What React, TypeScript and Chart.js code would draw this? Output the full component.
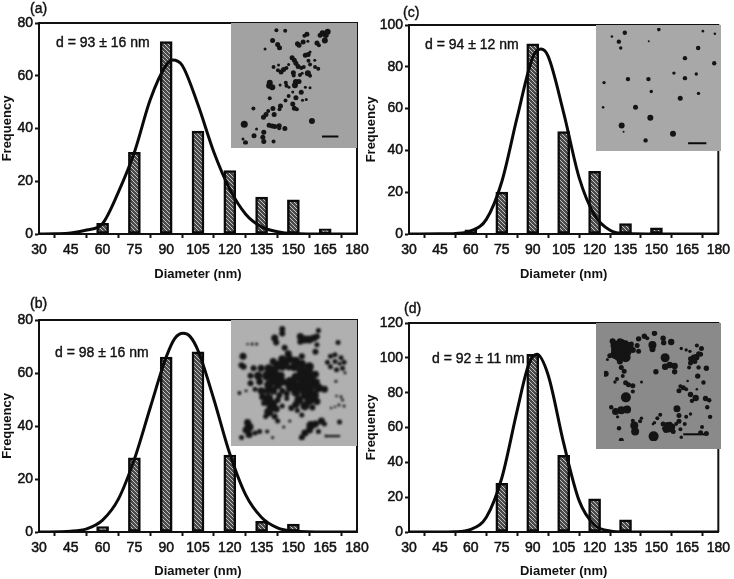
import React, { useEffect, useRef } from 'react';
import { Chart, registerables } from 'chart.js';
Chart.register(...registerables);

// histogram values, one list per panel
const diameters = [60, 75, 90, 105, 120, 135, 150, 165, 180];
const freqA = [4, 31, 73, 39, 24, 14, 13, 2, 0];
const freqB = [2, 28, 66, 68, 29, 4, 3, 0, 0];
const freqC = [2, 20, 91, 49, 30, 5, 3, 0, 0];
const freqD = [0, 28, 102, 44, 19, 7, 0, 0, 0];

// fitted curves: [diameter, frequency]
const curveA = [[30, 0], [37.5, 0.1], [45, 0.4], [52.5, 1.5], [60, 4], [67.5, 16], [75, 31], [82.5, 51], [90, 64], [93, 66], [97.5, 64], [105, 49], [112.5, 31], [120, 17], [127.5, 7.5], [135, 2.7], [142.5, 0.9], [150, 0.2], [165, 0], [180, 0]];
const curveB = [[30, 0], [45, 0.3], [52.5, 1.2], [60, 4.5], [67.5, 12.5], [75, 27.5], [82.5, 47], [90, 66], [94, 73], [98, 75], [101, 74], [105, 68.5], [112.5, 50], [120, 29.5], [127.5, 14], [135, 5.5], [142.5, 1.6], [150, 0.4], [165, 0], [180, 0]];
const curveC = [[30, 0], [45, 0.1], [52.5, 0.3], [60, 1.5], [67.5, 7], [75, 25], [82.5, 56], [90, 84.5], [94, 88.5], [97.5, 85], [105, 58], [112.5, 27], [120, 9], [127.5, 1.8], [135, 0.2], [150, 0], [180, 0]];
const curveD = [[30, 0], [52.5, 0.2], [60, 1.5], [67.5, 8.5], [75, 31], [82.5, 70], [88, 96], [92, 102], [97.5, 90], [105, 51], [112.5, 18], [120, 4], [127.5, 0.6], [135, 0], [180, 0]];

// particles of the micrographs: [x, y, radius], x and y on a 0-378 scale
const particlesA = [[133, 12, 2], [161, 14, 2], [230, 25, 2.5], [222, 30, 2], [296, 17, 3], [280, 22, 3], [272, 28, 2.5], [290, 27, 3], [287, 45, 3], [121, 45, 2.5], [97, 72, 1.5], [137, 58, 2.5], [143, 68, 2.5], [200, 55, 2.5], [205, 60, 2.5], [218, 50, 2.5], [233, 47, 1.5], [262, 53, 2.5], [268, 60, 2], [225, 92, 2.5], [234, 90, 2.5], [240, 82, 1.5], [183, 100, 2.5], [190, 108, 2.5], [195, 118, 2.5], [202, 128, 2.5], [212, 133, 2], [220, 130, 2], [235, 110, 2], [240, 122, 2], [255, 108, 1.5], [256, 130, 2], [266, 135, 2], [172, 122, 1.5], [124, 130, 2], [140, 123, 1.5], [138, 140, 2], [148, 146, 2.5], [156, 138, 2.5], [165, 133, 2], [187, 148, 2.5], [188, 157, 2], [208, 155, 2], [215, 150, 1.5], [233, 150, 3], [240, 158, 2], [112, 180, 3], [110, 190, 3], [120, 195, 3], [145, 187, 1.5], [163, 180, 2], [165, 190, 2], [195, 178, 3], [205, 176, 2.5], [192, 188, 3], [173, 195, 1.5], [225, 195, 1.5], [240, 196, 1.5], [185, 210, 1.5], [212, 211, 2.5], [172, 223, 2], [195, 228, 2.5], [112, 230, 2], [162, 237, 2], [216, 236, 1.5], [228, 234, 1.5], [185, 248, 2.5], [190, 262, 2.5], [198, 265, 2], [60, 263, 2], [146, 255, 2.5], [143, 265, 2], [122, 263, 2.5], [107, 271, 2], [100, 282, 2.5], [92, 291, 2.5], [126, 282, 2.5], [246, 303, 3], [31, 313, 3.5], [110, 316, 2.5], [120, 319, 2.5], [128, 320, 2.5], [142, 318, 2.5], [142, 326, 2], [160, 327, 2.5], [70, 328, 1.5], [27, 360, 1.5], [62, 350, 2.5], [93, 339, 2.5], [90, 355, 2.5], [93, 368, 2.5], [35, 372, 2.5], [124, 368, 2]];
const particlesB = [[150, 10, 3], [150, 25, 3], [270, 15, 2.5], [210, 35, 3.5], [225, 45, 4], [240, 45, 4], [255, 40, 3.5], [210, 52, 3], [265, 35, 3], [125, 40, 3.5], [130, 55, 3], [158, 72, 3], [50, 60, 1.5], [65, 60, 1.5], [35, 60, 1.2], [335, 55, 2.5], [265, 62, 2.5], [260, 85, 3], [20, 100, 3.5], [15, 130, 3], [22, 135, 3], [310, 100, 2.5], [325, 95, 2.5], [345, 105, 2.5], [355, 120, 2.5], [350, 140, 2.5], [330, 145, 2.5], [310, 135, 2.5], [300, 120, 2.5], [325, 118, 2.5], [340, 125, 2], [358, 155, 1.5], [328, 183, 1.5], [170, 92, 3.5], [150, 110, 4], [175, 110, 4], [195, 115, 4], [120, 118, 3.5], [215, 125, 4], [135, 130, 4.5], [105, 140, 4], [80, 140, 3.5], [55, 140, 3], [120, 150, 5.5], [240, 135, 4.5], [190, 135, 4.5], [150, 135, 4], [215, 150, 5], [240, 160, 5], [100, 165, 5], [70, 165, 4], [45, 165, 3], [125, 175, 6], [195, 170, 4.5], [220, 175, 6], [250, 185, 5], [75, 185, 3.5], [45, 190, 3], [105, 195, 4.5], [135, 195, 4.5], [165, 190, 3], [190, 195, 4.5], [215, 200, 6], [240, 205, 5], [270, 205, 4.5], [290, 210, 3.5], [80, 215, 3.5], [120, 215, 4], [150, 215, 3], [195, 220, 4.5], [230, 225, 6], [255, 230, 5], [85, 235, 3.5], [105, 240, 4.5], [135, 245, 3], [165, 240, 2.5], [205, 245, 4.5], [240, 245, 5], [265, 250, 3.5], [115, 260, 5.5], [150, 265, 2.5], [195, 260, 3.5], [225, 265, 4.5], [250, 270, 3], [105, 285, 4.5], [125, 300, 3], [95, 300, 2.5], [215, 295, 2.5], [200, 280, 2.5], [135, 315, 2.5], [155, 335, 1.5], [175, 315, 1.5], [35, 320, 3.5], [40, 335, 4.5], [30, 345, 3.5], [40, 360, 3.5], [60, 355, 2.5], [75, 350, 2.5], [100, 350, 2], [245, 330, 4.5], [260, 325, 3.5], [280, 315, 3.5], [240, 345, 3.5], [225, 355, 3.5], [270, 350, 2.5], [290, 325, 2.5], [340, 318, 2.5], [295, 365, 1.5], [118, 370, 1.5], [8, 222, 2], [30, 215, 1.5], [345, 235, 1.5], [350, 245, 1.5], [338, 262, 1.5], [355, 265, 1.5], [325, 268, 1.2], [312, 272, 1.2], [160, 122, 4], [172, 138, 3], [145, 165, 4], [175, 182, 4], [150, 185, 4], [175, 205, 4], [165, 225, 3], [140, 230, 3], [100, 215, 3.5], [90, 255, 3], [130, 275, 3.5], [180, 272, 3], [215, 100, 3], [260, 160, 3.5], [265, 185, 3], [60, 210, 2.5], [215, 370, 3], [15, 370, 2.5], [330, 232, 1.2]];
const particlesC = [[190, 5, 1.8], [82, 15, 2.2], [41, 27, 1.3], [330, 10, 1.3], [368, 18, 1.3], [63, 43, 2.2], [69, 63, 1.7], [158, 42, 1], [315, 63, 2.2], [273, 95, 2.2], [366, 111, 2.2], [238, 142, 1.7], [309, 145, 1.7], [273, 158, 2.2], [92, 161, 2.2], [157, 161, 2.2], [16, 172, 1.7], [166, 200, 1.7], [316, 206, 1.7], [258, 221, 2.5], [116, 250, 2.5], [13, 250, 1.3], [163, 283, 3], [72, 307, 3], [235, 333, 3], [148, 354, 2.2], [78, 327, 1]];
const particlesD = [[60, 65, 8], [40, 50, 5], [85, 55, 5], [40, 80, 5], [75, 90, 5], [45, 65, 6], [75, 70, 6], [60, 45, 5], [55, 85, 6], [30, 35, 3], [55, 35, 3], [75, 42, 3], [100, 65, 3], [115, 50, 2.5], [120, 70, 2.5], [20, 85, 2.5], [12, 98, 1.5], [95, 45, 2.5], [55, 105, 3], [60, 125, 2.5], [70, 138, 2.5], [65, 155, 2], [45, 165, 2], [38, 175, 1.7], [75, 178, 2.5], [85, 185, 2.5], [100, 188, 2.5], [100, 208, 2], [130, 175, 1.5], [6, 147, 3], [120, 27, 2.7], [140, 18, 2.7], [150, 25, 2], [175, 8, 2.7], [168, 48, 4], [168, 63, 3], [205, 25, 2.7], [207, 40, 2.7], [233, 38, 3.2], [180, 140, 2.7], [212, 92, 4.5], [212, 123, 3.2], [228, 117, 3.2], [245, 120, 3.2], [245, 140, 2.7], [268, 60, 1.7], [285, 65, 1.7], [298, 70, 1.7], [305, 100, 3.2], [320, 90, 3.2], [312, 92, 3.2], [300, 95, 2.5], [315, 105, 2.5], [328, 78, 2.5], [335, 80, 2.5], [338, 60, 2.5], [322, 50, 2], [295, 125, 2], [300, 110, 2.5], [328, 125, 2.2], [355, 128, 2.7], [325, 155, 2.7], [345, 177, 2.2], [290, 172, 1.3], [260, 205, 2.5], [275, 195, 2.5], [265, 190, 2], [285, 200, 2], [300, 218, 2.7], [318, 230, 3.2], [305, 240, 2.2], [322, 200, 1.3], [352, 232, 2.7], [365, 238, 2.2], [358, 262, 2.2], [368, 295, 2.2], [76, 228, 5], [25, 262, 2.2], [40, 277, 3.5], [60, 272, 4], [80, 270, 4], [47, 295, 1.7], [52, 334, 2.2], [105, 325, 4], [108, 345, 4], [125, 310, 2], [100, 308, 2], [130, 300, 1.7], [172, 362, 5], [60, 375, 2.5], [253, 267, 3.5], [195, 288, 2], [185, 300, 2], [175, 315, 1.7], [205, 320, 2.5], [220, 325, 3.5], [235, 330, 3.5], [228, 322, 3], [215, 340, 3], [210, 335, 2.5], [225, 340, 2.5], [240, 345, 2.5], [260, 290, 2.5], [285, 295, 2], [300, 285, 1.7], [260, 310, 2.5], [280, 320, 2], [250, 320, 2], [265, 338, 2], [268, 365, 1.7], [340, 330, 2], [335, 350, 2.5], [355, 352, 2.5], [170, 320, 1.3]];

// scale bars of the micrographs: [x1, x2, y] on the same 0-378 scale
const scaleBarA = [278, 330, 352];
const scaleBarB = [295, 342, 365];
const scaleBarC = [283, 341, 363];
const scaleBarD = [275, 352, 355];

const FONT = '"Liberation Sans", Arial, sans-serif';

const hatch = () => {
  const tile = document.createElement('canvas');
  tile.width = 4;
  tile.height = 4;
  const c = tile.getContext('2d') as CanvasRenderingContext2D;
  c.fillStyle = '#4a4a4a';
  c.fillRect(0, 0, 4, 4);
  c.fillStyle = '#c4c4c4';
  for (let i = 0; i < 4; i++) c.fillRect(i, i, 1, 1);
  return c.createPattern(tile, 'repeat');
};

// closes the plot box on the top and right
const frame = {
  id: 'frame',
  afterDatasetsDraw(chart: any) {
    const { ctx, chartArea: a } = chart;
    ctx.save();
    ctx.strokeStyle = '#111';
    ctx.lineWidth = 2;
    ctx.beginPath();
    ctx.moveTo(a.left, a.top);
    ctx.lineTo(a.right, a.top);
    ctx.lineTo(a.right, a.bottom);
    ctx.stroke();
    ctx.restore();
  },
};

const Panel = ({ box, plot, yMax, yStep, freq, curve }: any) => {
  const ref = useRef<HTMLCanvasElement>(null);

  useEffect(() => {
    const tickOpts = { color: '#111', textStrokeColor: '#111', textStrokeWidth: 0.5, font: { family: FONT, size: 14 } };
    const titleOpts = { display: true, color: '#111', padding: 0, font: { family: FONT, size: 13, weight: 'bold' } };
    const chart = new Chart(ref.current as HTMLCanvasElement, {
      type: 'bar',
      data: {
        datasets: [
          {
            type: 'line',
            data: curve.map(([x, y]: number[]) => ({ x, y })),
            borderColor: '#0a0a0a',
            borderWidth: 3,
            pointRadius: 0,
            tension: 0.4,
            cubicInterpolationMode: 'monotone',
            order: 0,
          },
          {
            type: 'bar',
            data: diameters.map((x, i) => ({ x, y: freq[i] })),
            backgroundColor: hatch(),
            borderColor: '#0a0a0a',
            borderWidth: 2.5,
            borderSkipped: false,
            barThickness: 12,
            order: 1,
          },
        ],
      } as any,
      options: {
        responsive: false,
        animation: false,
        devicePixelRatio: 1,
        layout: { padding: { top: plot.top - box.y, right: box.x + box.w - plot.right, left: 0, bottom: 0 } },
        plugins: { legend: { display: false }, tooltip: { enabled: false } },
        scales: {
          x: {
            type: 'linear',
            min: 30,
            max: 180,
            offset: false,
            afterFit: (s: any) => { s.height = box.y + box.h - plot.bottom; },
            title: { ...titleOpts, text: 'Diameter (nm)' },
            ticks: { ...tickOpts, stepSize: 15, padding: 4, maxRotation: 0, autoSkip: false },
            grid: { drawOnChartArea: false, tickLength: 4, tickWidth: 2, tickColor: '#111' },
            border: { color: '#111', width: 2 },
          },
          y: {
            min: 0,
            max: yMax,
            afterFit: (s: any) => { s.width = plot.left - box.x; },
            title: { ...titleOpts, text: 'Frequency' },
            ticks: { ...tickOpts, stepSize: yStep, padding: 2 },
            grid: { drawOnChartArea: false, tickLength: 4, tickWidth: 2, tickColor: '#111' },
            border: { color: '#111', width: 2 },
          },
        },
      } as any,
      plugins: [frame],
    });

    return () => {
      chart.destroy();
    };
  }, []);

  return (
    <canvas
      ref={ref}
      width={box.w}
      height={box.h}
      style={{ position: 'absolute', left: box.x, top: box.y, width: box.w, height: box.h, filter: 'blur(0.35px)' }}
    />
  );
};

const Micrograph = ({ x, y, w, h, particles, bar, bg, blur }: any) => {
  const ref = useRef<HTMLCanvasElement>(null);

  useEffect(() => {
    const chart = new Chart(ref.current as HTMLCanvasElement, {
      type: 'bubble',
      data: {
        datasets: [
          {
            data: particles.map(([px, py, r]: number[]) => ({ x: px, y: py, r })),
            backgroundColor: '#141414',
            borderWidth: 0,
            hoverRadius: 0,
          },
          {
            type: 'line',
            data: [{ x: bar[0], y: bar[2] }, { x: bar[1], y: bar[2] }],
            borderColor: '#0a0a0a',
            borderWidth: 2,
            pointRadius: 0,
          },
        ],
      } as any,
      options: {
        responsive: false,
        animation: false,
        devicePixelRatio: 1,
        plugins: { legend: { display: false }, tooltip: { enabled: false } },
        scales: {
          x: { type: 'linear', display: false, min: 0, max: 378 },
          y: { type: 'linear', display: false, min: 0, max: 378, reverse: true },
        },
      } as any,
    });

    return () => {
      chart.destroy();
    };
  }, []);

  return (
    <div style={{ position: 'absolute', left: x, top: y, width: w, height: h, background: bg, overflow: 'hidden' }}>
      <canvas ref={ref} width={w} height={h} style={{ display: 'block', width: w, height: h, filter: `blur(${blur}px)` }} />
    </div>
  );
};

const Note = ({ x, y, children }: any) => (
  <div
    style={{
      position: 'absolute',
      left: x,
      top: y - 8,
      lineHeight: '16px',
      fontFamily: FONT,
      fontSize: 14,
      color: '#111',
      WebkitTextStroke: '0.4px #111',
      whiteSpace: 'nowrap',
    }}
  >
    {children}
  </div>
);

export default function App() {
  useEffect(() => {
    document.body.style.margin = '0';
  }, []);

  return (
    <div style={{ position: 'absolute', left: 0, top: 0, width: 734, height: 579, overflow: 'hidden', background: '#fff' }}>
      <Panel box={{ x: 0, y: 0, w: 374, h: 282 }} plot={{ left: 39, right: 357, top: 23, bottom: 234 }} yMax={80} yStep={20} freq={freqA} curve={curveA} />
      <Panel box={{ x: 364, y: 0, w: 370, h: 282 }} plot={{ left: 409, right: 722, top: 25, bottom: 234 }} yMax={100} yStep={20} freq={freqC} curve={curveC} />
      <Panel box={{ x: 0, y: 296, w: 374, h: 283 }} plot={{ left: 39, right: 357, top: 320, bottom: 532 }} yMax={80} yStep={20} freq={freqB} curve={curveB} />
      <Panel box={{ x: 364, y: 296, w: 370, h: 283 }} plot={{ left: 409, right: 722, top: 323, bottom: 532 }} yMax={120} yStep={20} freq={freqD} curve={curveD} />

      <Micrograph x={231} y={23} w={126} h={125} particles={particlesA} bar={scaleBarA} bg="#a2a2a2" blur={0.6} />
      <Micrograph x={596} y={25} w={125} h={126} particles={particlesC} bar={scaleBarC} bg="#a8a8a8" blur={0.6} />
      <Micrograph x={231} y={320} w={126} h={126} particles={particlesB} bar={scaleBarB} bg="#b0b0b0" blur={1.1} />
      <Micrograph x={596} y={323} w={125} h={126} particles={particlesD} bar={scaleBarD} bg="#8a8a8a" blur={0.7} />

      <Note x={30} y={8}>(a)</Note>
      <Note x={403} y={12}>(c)</Note>
      <Note x={30} y={303}>(b)</Note>
      <Note x={404} y={308}>(d)</Note>
      <Note x={56} y={42}>d = 93 ± 16 nm</Note>
      <Note x={425} y={44}>d = 94 ± 12 nm</Note>
      <Note x={55} y={352}>d = 98 ± 16 nm</Note>
      <Note x={432} y={358}>d = 92 ± 11 nm</Note>
    </div>
  );
}
